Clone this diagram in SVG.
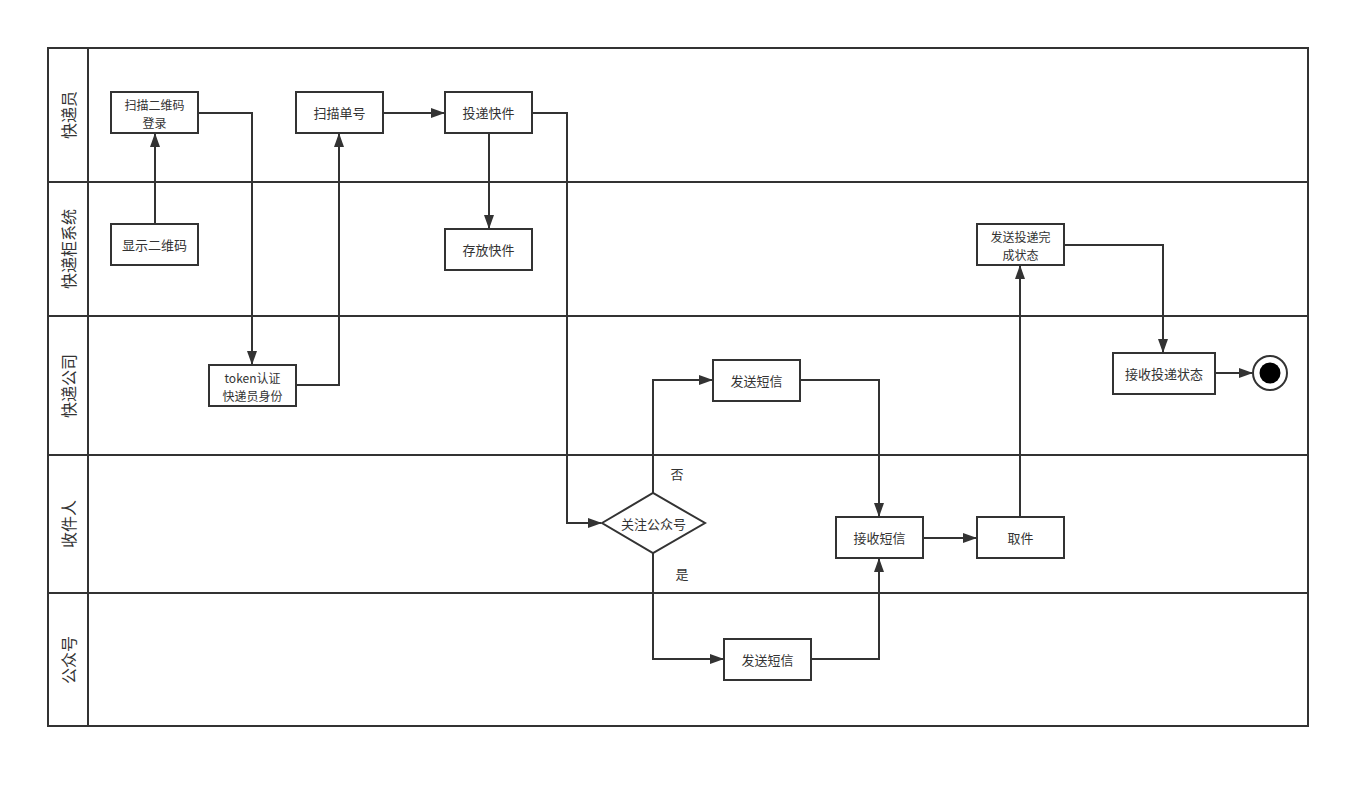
<svg xmlns="http://www.w3.org/2000/svg" width="1370" height="787" viewBox="0 0 1370 787">
<style>
.lane{fill:none;stroke:#333;stroke-width:2}
.box{fill:#fff;stroke:#333;stroke-width:2}
.t{font-family:"Noto Sans CJK SC","Liberation Sans",sans-serif;font-size:13px;fill:#333;text-anchor:middle;dominant-baseline:central}
.t2{font-family:"Noto Sans CJK SC","Liberation Sans",sans-serif;font-size:12px;fill:#333;text-anchor:middle;dominant-baseline:central}
.lt{font-family:"Noto Sans CJK SC","Liberation Sans",sans-serif;font-size:16px;fill:#333;text-anchor:middle;dominant-baseline:central}
.c{fill:none;stroke:#333;stroke-width:2;marker-end:url(#ah)}
</style>
<defs>
<marker id="ah" markerUnits="userSpaceOnUse" markerWidth="14" markerHeight="10" refX="13" refY="5" orient="auto">
<path d="M0,0 L14,5 L0,10 Z" fill="#333"/>
</marker>
</defs>
<rect width="1370" height="787" fill="#fff"/>
<g id="lanes">
<rect class="lane" x="48" y="48" width="1260" height="678"/>
<line class="lane" x1="88" y1="48" x2="88" y2="726"/>
<line class="lane" x1="48" y1="182" x2="1308" y2="182"/>
<line class="lane" x1="48" y1="316" x2="1308" y2="316"/>
<line class="lane" x1="48" y1="455" x2="1308" y2="455"/>
<line class="lane" x1="48" y1="593" x2="1308" y2="593"/>
<text class="lt" transform="translate(68,115) rotate(-90)">快递员</text>
<text class="lt" transform="translate(68,249) rotate(-90)">快递柜系统</text>
<text class="lt" transform="translate(68,386) rotate(-90)">快递公司</text>
<text class="lt" transform="translate(68,524) rotate(-90)">收件人</text>
<text class="lt" transform="translate(68,660) rotate(-90)">公众号</text>
</g>
<g id="connectors">
<path class="c" d="M155,224 V134"/>
<path class="c" d="M198,113 H252 V364"/>
<path class="c" d="M296,385 H339 V134"/>
<path class="c" d="M383,113 H444"/>
<path class="c" d="M489,133 V228"/>
<path class="c" d="M532,113 H567 V523 H601"/>
<path class="c" d="M653,493 V380 H712"/>
<path class="c" d="M653,553 V659 H723"/>
<path class="c" d="M800,380 H879 V516"/>
<path class="c" d="M811,659 H879 V559"/>
<path class="c" d="M923,538 H976"/>
<path class="c" d="M1020,517 V266"/>
<path class="c" d="M1064,245 H1163 V352"/>
<path class="c" d="M1215,373 H1252"/>
<text class="t" x="677" y="473">否</text>
<text class="t" x="682" y="573">是</text>
</g>
<g id="n1"><rect class="box" x="111" y="92" width="87" height="41"/><text class="t2" x="154.5" y="104">扫描二维码</text><text class="t2" x="154.5" y="122">登录</text></g>
<g id="n2"><rect class="box" x="111" y="224" width="87" height="41"/><text class="t" x="154.5" y="244.5">显示二维码</text></g>
<g id="n3"><rect class="box" x="296" y="92" width="87" height="41"/><text class="t" x="339.5" y="112.5">扫描单号</text></g>
<g id="n4"><rect class="box" x="445" y="92" width="87" height="41"/><text class="t" x="488.5" y="112.5">投递快件</text></g>
<g id="n5"><rect class="box" x="445" y="229" width="87" height="41"/><text class="t" x="488.5" y="249.5">存放快件</text></g>
<g id="n6"><rect class="box" x="209" y="365" width="87" height="41"/><text class="t2" x="252.5" y="377">token认证</text><text class="t2" x="252.5" y="395">快递员身份</text></g>
<g id="n7"><rect class="box" x="713" y="360" width="87" height="41"/><text class="t" x="756.5" y="380.5">发送短信</text></g>
<g id="n8"><path class="box" d="M602,523 L653,493 L705,523 L653,553 Z"/><text class="t" x="653.5" y="523">关注公众号</text></g>
<g id="n9"><rect class="box" x="836" y="517" width="87" height="41"/><text class="t" x="879.5" y="537.5">接收短信</text></g>
<g id="n10"><rect class="box" x="977" y="517" width="87" height="41"/><text class="t" x="1020.5" y="537.5">取件</text></g>
<g id="n11"><rect class="box" x="977" y="224" width="87" height="41"/><text class="t2" x="1020.5" y="236">发送投递完</text><text class="t2" x="1020.5" y="254">成状态</text></g>
<g id="n12"><rect class="box" x="1113" y="353" width="102" height="41"/><text class="t" x="1164" y="373.5">接收投递状态</text></g>
<g id="n13"><circle cx="1270" cy="373" r="17" fill="#fff" stroke="#333" stroke-width="2"/><circle cx="1270" cy="373" r="10.5" fill="#000"/></g>
<g id="n14"><rect class="box" x="724" y="639" width="87" height="41"/><text class="t" x="767.5" y="659.5">发送短信</text></g>
</svg>
